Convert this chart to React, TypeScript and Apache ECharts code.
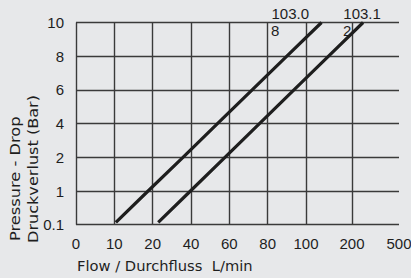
import React, { useEffect, useRef } from "react";
import * as echarts from "echarts";

// ---- data ----
const flowTicks = [0, 10, 20, 40, 60, 80, 100, 200, 500];
const flowTickLabels = ["0", "10", "20", "40", "60", "80", "100", "200", "500"];
const pressureTicks = [0.1, 1, 2, 4, 6, 8, 10];
const pressureTickLabels = ["0.1", "1", "2", "4", "6", "8", "10"];

const seriesAName = "103.08";
const seriesAFlow = [10.4, 18.8, 35.8, 53.8, 71.9, 90, 133.7];
const seriesAPressure = [0.16, 1, 2, 4, 6, 8, 10];

const seriesBName = "103.12";
const seriesBFlow = [22.9, 39.7, 57.7, 75.7, 93.7, 149, 270.6];
const seriesBPressure = [0.16, 1, 2, 4, 6, 8, 10];

const xTitle = "Flow / Durchfluss  L/min";
const yTitle1 = "Pressure - Drop";
const yTitle2 = "Druckverlust (Bar)";

// ---- scale (non-uniform printed chart scale) ----
const flowSegmentWeights = [1, 1, 1, 1, 1, 1, 1.2, 1.225];
const pressureSegmentWeights = [1, 1, 1, 1, 1, 1];

function cumulative(w: number[]) {
  const out = [0];
  w.forEach((v) => out.push(out[out.length - 1] + v));
  return out;
}
const flowPos = cumulative(flowSegmentWeights);
const pressurePos = cumulative(pressureSegmentWeights);

function piecewise(v: number, ticks: number[], pos: number[]) {
  for (let i = 0; i < ticks.length - 1; i++) {
    if (v <= ticks[i + 1] || i === ticks.length - 2) {
      const t = (v - ticks[i]) / (ticks[i + 1] - ticks[i]);
      return pos[i] + t * (pos[i + 1] - pos[i]);
    }
  }
  return pos[pos.length - 1];
}
const mapX = (v: number) => piecewise(v, flowTicks, flowPos);
const mapY = (v: number) => piecewise(v, pressureTicks, pressurePos);

const labelFont = "'Liberation Sans Narrow', 'Arial Narrow', sans-serif";
const titleFont = "'DejaVu Sans', sans-serif";
const ink = "#1e1e1e";

export default function App() {
  const ref = useRef<HTMLDivElement>(null);
  useEffect(() => {
    if (!ref.current) return;
    const chart = echarts.init(ref.current, null, { renderer: "svg" });
    const gridStyle = { color: "#3a3a3a", width: 1.4, type: "solid" as const };
    const lineStyle = { color: ink, width: 3.2, cap: "butt" as const };
    chart.setOption({
      animation: false,
      backgroundColor: "#e7e8ea",
      grid: { left: 76, right: 12, top: 22.5, bottom: 53.3, outerBoundsMode: "none" },
      xAxis: {
        type: "value",
        min: 0,
        max: flowPos[flowPos.length - 1],
        axisLine: { show: false },
        axisTick: { show: false },
        splitLine: { show: false },
        axisLabel: {
          customValues: flowPos,
          margin: 11,
          fontFamily: labelFont,
          fontSize: 15,
          color: ink,
          formatter: (v: number) => {
            const i = flowPos.findIndex((p) => Math.abs(p - v) < 1e-6);
            return i >= 0 ? flowTickLabels[i] : "";
          },
        },
      },
      yAxis: {
        type: "value",
        min: 0,
        max: pressurePos[pressurePos.length - 1],
        interval: 1,
        axisLine: { show: false },
        axisTick: { show: false },
        splitLine: { show: false },
        axisLabel: {
          margin: 12,
          fontFamily: labelFont,
          fontSize: 15,
          color: ink,
          formatter: (v: number) => {
            const i = pressurePos.findIndex((p) => Math.abs(p - v) < 1e-6);
            return i >= 0 ? pressureTickLabels[i] : "";
          },
        },
      },
      series: [
        {
          type: "line",
          name: "grid",
          data: [],
          z: 1,
          silent: true,
          markLine: {
            silent: true,
            symbol: ["none", "none"],
            label: { show: false },
            lineStyle: gridStyle,
            data: [
              ...flowPos.map((p) => ({ xAxis: p })),
              ...pressurePos.map((p) => ({ yAxis: p })),
            ],
          },
        },
        {
          type: "line",
          name: seriesAName,
          z: 5,
          showSymbol: false,
          data: seriesAFlow.map((f, i) => [mapX(f), mapY(seriesAPressure[i])]),
          lineStyle,
        },
        {
          type: "line",
          name: seriesBName,
          z: 5,
          showSymbol: false,
          data: seriesBFlow.map((f, i) => [mapX(f), mapY(seriesBPressure[i])]),
          lineStyle,
        },
      ],
      graphic: [
        {
          type: "text",
          x: 77,
          y: 266,
          scaleX: 1.05,
          style: { text: xTitle, font: `14px ${titleFont}`, fill: ink, align: "left", verticalAlign: "middle" },
        },
        {
          type: "text",
          x: 15,
          y: 241,
          rotation: Math.PI / 2,
          scaleX: 1.16,
          style: {
            text: yTitle1,
            font: `14px ${titleFont}`,
            fill: ink,
            align: "left",
            verticalAlign: "middle",
          },
        },
        {
          type: "text",
          x: 33,
          y: 243,
          rotation: Math.PI / 2,
          scaleX: 1.15,
          style: {
            text: yTitle2,
            font: `14px ${titleFont}`,
            fill: ink,
            align: "left",
            verticalAlign: "middle",
          },
        },
        {
          type: "text",
          x: 271.5,
          y: 21,
          z: 10,
          style: { text: seriesAName.slice(0, 5), font: `15px ${labelFont}`, fill: ink, align: "left", verticalAlign: "bottom" },
        },
        {
          type: "text",
          x: 271,
          y: 38,
          z: 10,
          style: { text: seriesAName.slice(5), font: `15px ${labelFont}`, fill: ink, align: "left", verticalAlign: "bottom" },
        },
        {
          type: "text",
          x: 343.3,
          y: 21,
          z: 10,
          style: { text: seriesBName.slice(0, 5), font: `15px ${labelFont}`, fill: ink, align: "left", verticalAlign: "bottom" },
        },
        {
          type: "text",
          x: 343,
          y: 38,
          z: 1,
          style: { text: seriesBName.slice(5), font: `15px ${labelFont}`, fill: ink, align: "left", verticalAlign: "bottom" },
        },
      ],
    });
    return () => chart.dispose();
  }, []);
  return (
    <div
      ref={ref}
      style={{ position: "fixed", left: 0, top: 0, width: 411, height: 278 }}
    />
  );
}
